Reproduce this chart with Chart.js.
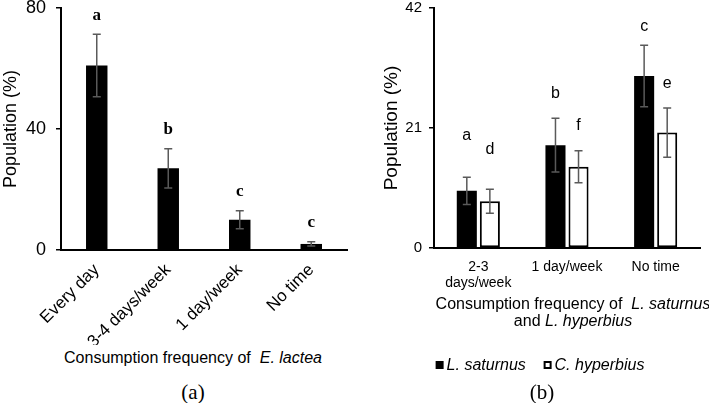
<!DOCTYPE html>
<html lang="en">
<head>
<meta charset="UTF-8">
<title>Consumption frequency</title>
<script src="https://cdn.jsdelivr.net/npm/chart.js"></script>
<style>
    body {
        margin: 0;
        width: 709px;
        height: 403px;
        position: relative;
        overflow: hidden;
        background: #fff;
        font-family: Arial, "Liberation Sans", sans-serif;
        color: #000;
    }
    canvas { position: absolute; top: 0; }
    #chartA { left: 0; }
    #chartB { left: 360px; }
    .txt {
        position: absolute;
        white-space: nowrap;
        transform: translateX(-50%);
        text-align: center;
    }
    .axis-title { font-size: 16px; line-height: 17px; }
    .panel { font-family: "Liberation Serif", "Times New Roman", serif; font-size: 21px; line-height: 22px; }
    .legend { font-size: 16px; line-height: 18px; font-style: italic; }
    .sw { display: inline-block; width: 8px; height: 8px; margin-right: 3px; vertical-align: 1px; box-sizing: border-box; }
</style>
</head>
<body>
    <canvas id="chartA" width="355" height="345"></canvas>
    <canvas id="chartB" width="349" height="300"></canvas>

    <div class="txt axis-title" style="left:193px; top:349px;">Consumption frequency of&nbsp; <i>E. lactea</i></div>
    <div class="txt panel" style="left:193px; top:381px;">(a)</div>

    <div class="txt axis-title" style="left:573px; top:295px;">Consumption frequency of&nbsp; <i>L. saturnus</i><br>and <i>L. hyperbius</i></div>
    <div class="txt legend" style="left:540px; top:356px;">
        <span class="sw" style="background:#000;"></span>L. saturnus&nbsp;&nbsp;&nbsp;
        <span class="sw" style="border:2px solid #000; background:#fff;"></span>C. hyperbius
    </div>
    <div class="txt panel" style="left:542px; top:381px;">(b)</div>

<script>
    // panel (a): E. lactea
    const freqA = ['Every day', '3-4 days/week', '1 day/week', 'No time'];
    const popA = [61, 27, 10, 2];
    const errA = [10.3, 6.5, 3, 0.7];
    const lettersA = ['a', 'b', 'c', 'c'];
    const ticksA = [0, 40, 80];

    // panel (b): L. saturnus / C. hyperbius
    const freqB = [['2-3', 'days/week'], '1 day/week', 'No time'];
    const saturnus = [10, 18, 30.1];
    const saturnusErr = [2.4, 4.7, 5.4];
    const hyperbius = [8.2, 14.2, 20.2];
    const hyperbiusErr = [2.1, 2.8, 4.3];
    const lettersSat = ['a', 'b', 'c'];
    const lettersHyp = ['d', 'f', 'e'];
    const ticksB = [0, 21, 42];

    const sans = 'Arial, "Liberation Sans", sans-serif';

    // error bars + significance letters
    const errorBarPlugin = {
        id: 'errorBars',
        afterDatasetsDraw(chart, args, opts) {
            const ctx = chart.ctx;
            const yScale = chart.scales.y;
            chart.data.datasets.forEach((ds, i) => {
                const meta = chart.getDatasetMeta(i);
                meta.data.forEach((bar, j) => {
                    const v = ds.data[j];
                    const e = ds.errors[j];
                    const yTop = yScale.getPixelForValue(v + e);
                    const yBot = yScale.getPixelForValue(v - e);
                    ctx.save();
                    ctx.strokeStyle = '#5a5a5a';
                    ctx.lineWidth = 1.5;
                    ctx.beginPath();
                    ctx.moveTo(bar.x, yTop);
                    ctx.lineTo(bar.x, yBot);
                    ctx.moveTo(bar.x - 4, yTop);
                    ctx.lineTo(bar.x + 4, yTop);
                    ctx.moveTo(bar.x - 4, yBot);
                    ctx.lineTo(bar.x + 4, yBot);
                    ctx.stroke();

                    ctx.fillStyle = '#000';
                    ctx.font = opts.font;
                    ctx.textAlign = 'center';
                    ctx.textBaseline = 'middle';
                    const lift = opts.lift[i * meta.data.length + j];
                    ctx.fillText(ds.letters[j], bar.x, yTop - lift);
                    ctx.restore();
                });
            });
        }
    };

    new Chart(document.getElementById('chartA'), {
        type: 'bar',
        data: {
            labels: freqA,
            datasets: [{
                data: popA,
                errors: errA,
                letters: lettersA,
                backgroundColor: '#000',
                borderWidth: 0,
                barPercentage: 0.3,
                categoryPercentage: 1
            }]
        },
        options: {
            responsive: false,
            animation: false,
            layout: { padding: { top: 8, right: 8, left: 0, bottom: 0 } },
            plugins: {
                legend: { display: false },
                tooltip: { enabled: false },
                errorBars: { font: 'bold 17px "Liberation Serif", "Times New Roman", serif', lift: [19, 19, 19, 19] }
            },
            scales: {
                x: {
                    grid: { display: false },
                    border: { color: '#000', width: 2 },
                    ticks: { color: '#000', font: { size: 17, family: sans }, maxRotation: 45, minRotation: 45, padding: 2 },
                    afterFit: s => { s.height = 95; s.paddingLeft = 0; s.paddingRight = 0; }
                },
                y: {
                    min: 0,
                    max: 80,
                    afterBuildTicks: s => { s.ticks = ticksA.map(v => ({ value: v })); },
                    grid: { drawOnChartArea: false, color: '#000', tickLength: 5, lineWidth: 1.5 },
                    border: { color: '#000', width: 2 },
                    ticks: { color: '#000', font: { size: 18, family: sans }, padding: 10 },
                    title: { display: true, text: 'Population (%)', color: '#000', font: { size: 18, family: sans }, padding: 0 },
                    afterFit: s => { s.width = 61; s.paddingTop = 0; s.paddingBottom = 0; }
                }
            }
        },
        plugins: [errorBarPlugin]
    });

    new Chart(document.getElementById('chartB'), {
        type: 'bar',
        data: {
            labels: freqB,
            datasets: [{
                label: 'L. saturnus',
                data: saturnus,
                errors: saturnusErr,
                letters: lettersSat,
                backgroundColor: '#000',
                borderWidth: 0,
                barPercentage: 0.87,
                categoryPercentage: 0.52
            }, {
                label: 'C. hyperbius',
                data: hyperbius,
                errors: hyperbiusErr,
                letters: lettersHyp,
                backgroundColor: '#fff',
                borderColor: '#000',
                borderWidth: 2,
                borderSkipped: false,
                barPercentage: 0.87,
                categoryPercentage: 0.52
            }]
        },
        options: {
            responsive: false,
            animation: false,
            layout: { padding: { top: 8, right: 9, left: 0, bottom: 0 } },
            plugins: {
                legend: { display: false },
                tooltip: { enabled: false },
                errorBars: { font: '16px ' + sans, lift: [42, 25, 19, 40, 25, 24] }
            },
            scales: {
                x: {
                    grid: { display: false },
                    border: { color: '#000', width: 2 },
                    ticks: { color: '#000', font: { size: 14, family: sans, lineHeight: 1.15 }, maxRotation: 0, padding: 3 },
                    afterFit: s => { s.height = 52; s.paddingLeft = 0; s.paddingRight = 0; }
                },
                y: {
                    min: 0,
                    max: 42,
                    afterBuildTicks: s => { s.ticks = ticksB.map(v => ({ value: v })); },
                    grid: { drawOnChartArea: false, color: '#000', tickLength: 5, lineWidth: 1.5 },
                    border: { color: '#000', width: 2 },
                    ticks: { color: '#000', font: { size: 15, family: sans }, padding: 7 },
                    title: { display: true, text: 'Population (%)', color: '#000', font: { size: 19, family: sans }, padding: { top: 20 } },
                    afterFit: s => { s.width = 74; s.paddingTop = 0; s.paddingBottom = 0; }
                }
            }
        },
        plugins: [errorBarPlugin]
    });
</script>
</body>
</html>
